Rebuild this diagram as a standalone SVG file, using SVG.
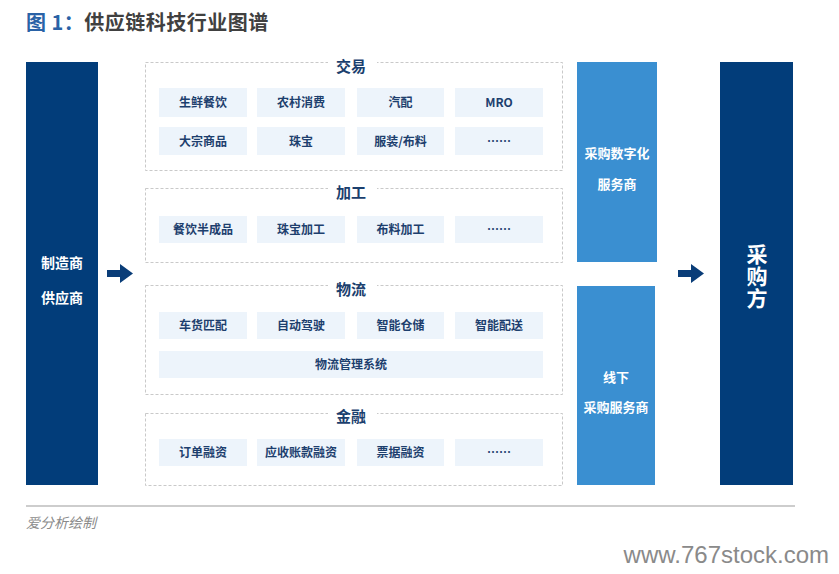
<svg xmlns="http://www.w3.org/2000/svg" width="839" height="574" viewBox="0 0 839 574">
<style>
text{font-family:"Noto Sans CJK SC","Liberation Sans",sans-serif;}
.dark{fill:#023d7a;}
.light{fill:#3a8fd1;}
.wt{fill:#fff;font-weight:bold;font-size:13px;text-anchor:middle;}
.wt14{font-size:14px;}
.big{font-size:21px;writing-mode:vertical-rl;letter-spacing:1px;}
.sec{fill:none;stroke:#c9c9c9;stroke-width:1;stroke-dasharray:3 2;}
.st{fill:#1b3f6e;font-weight:bold;font-size:15px;text-anchor:middle;}
.cell{fill:#edf4fb;}
.ct{fill:#1d3f6e;font-weight:bold;font-size:12px;text-anchor:middle;}
.arr{fill:#0a3d78;}
.wm{font-family:"Liberation Sans",sans-serif;font-size:24px;fill:#8a8a8a;text-anchor:end;}
</style>
<rect width="839" height="574" fill="#fff"/>
<text x="26" y="30" style="font-size:20px;font-weight:bold;letter-spacing:0.5px"><tspan fill="#2a62a6">图 1：</tspan><tspan fill="#404040">供应链科技行业图谱</tspan></text>

<g id="manufacturer">
<rect class="dark" x="26" y="62" width="72" height="423"/>
<text class="wt wt14" x="62" y="268">制造商</text>
<text class="wt wt14" x="62" y="303">供应商</text>
</g>

<g id="trade">
<rect class="sec" x="145.5" y="62.5" width="417" height="108"/>
<rect x="328" y="56" width="49" height="14" fill="#fff"/>
<text class="st" x="351" y="72">交易</text>
<rect class="cell" x="159" y="88" width="88" height="29"/><text class="ct" x="203" y="107">生鲜餐饮</text>
<rect class="cell" x="257" y="88" width="88" height="29"/><text class="ct" x="301" y="107">农村消费</text>
<rect class="cell" x="357" y="88" width="87" height="29"/><text class="ct" x="400.5" y="107">汽配</text>
<rect class="cell" x="455" y="88" width="88" height="29"/><text class="ct" x="499" y="107">MRO</text>
<rect class="cell" x="159" y="127" width="88" height="28"/><text class="ct" x="203" y="145.5">大宗商品</text>
<rect class="cell" x="257" y="127" width="88" height="28"/><text class="ct" x="301" y="145.5">珠宝</text>
<rect class="cell" x="357" y="127" width="87" height="28"/><text class="ct" x="400.5" y="145.5">服装/布料</text>
<rect class="cell" x="455" y="127" width="88" height="28"/><text class="ct" x="499" y="145.5">……</text>
</g>

<g id="processing">
<rect class="sec" x="145.5" y="188.5" width="417" height="74"/>
<rect x="328" y="182" width="49" height="14" fill="#fff"/>
<text class="st" x="351" y="198">加工</text>
<rect class="cell" x="159" y="216" width="88" height="27"/><text class="ct" x="203" y="234">餐饮半成品</text>
<rect class="cell" x="257" y="216" width="88" height="27"/><text class="ct" x="301" y="234">珠宝加工</text>
<rect class="cell" x="357" y="216" width="87" height="27"/><text class="ct" x="400.5" y="234">布料加工</text>
<rect class="cell" x="455" y="216" width="88" height="27"/><text class="ct" x="499" y="234">……</text>
</g>

<g id="logistics">
<rect class="sec" x="145.5" y="285.5" width="417" height="109"/>
<rect x="328" y="279" width="49" height="14" fill="#fff"/>
<text class="st" x="351" y="295">物流</text>
<rect class="cell" x="159" y="312" width="88" height="27"/><text class="ct" x="203" y="330">车货匹配</text>
<rect class="cell" x="257" y="312" width="88" height="27"/><text class="ct" x="301" y="330">自动驾驶</text>
<rect class="cell" x="357" y="312" width="87" height="27"/><text class="ct" x="400.5" y="330">智能仓储</text>
<rect class="cell" x="455" y="312" width="88" height="27"/><text class="ct" x="499" y="330">智能配送</text>
<rect class="cell" x="159" y="351" width="384" height="27"/><text class="ct" x="351" y="369">物流管理系统</text>
</g>

<g id="finance">
<rect class="sec" x="145.5" y="413.5" width="417" height="72"/>
<rect x="328" y="407" width="49" height="14" fill="#fff"/>
<text class="st" x="351" y="422">金融</text>
<rect class="cell" x="159" y="439" width="88" height="27"/><text class="ct" x="203" y="457">订单融资</text>
<rect class="cell" x="257" y="439" width="88" height="27"/><text class="ct" x="301" y="457">应收账款融资</text>
<rect class="cell" x="357" y="439" width="87" height="27"/><text class="ct" x="400.5" y="457">票据融资</text>
<rect class="cell" x="455" y="439" width="88" height="27"/><text class="ct" x="499" y="457">……</text>
</g>

<g id="digital-service">
<rect class="light" x="577" y="62" width="80" height="200"/>
<text class="wt" x="617" y="157.5">采购数字化</text>
<text class="wt" x="617" y="188.5">服务商</text>
</g>

<g id="offline-service">
<rect class="light" x="577" y="286" width="78" height="199"/>
<text class="wt" x="616" y="381.5">线下</text>
<text class="wt" x="616" y="411.5">采购服务商</text>
</g>

<g id="buyer">
<rect class="dark" x="720" y="62" width="73" height="423"/>
<text class="wt big" x="757" y="277">采购方</text>
</g>

<g id="connectors">
<path class="arr" d="M107,270 H120 V264 L133,273.5 L120,283 V277 H107 Z"/>
<path class="arr" d="M678,270 H691 V264 L704,273.5 L691,283 V277 H678 Z"/>
</g>

<line x1="26" y1="506" x2="795" y2="506" stroke="#bdbdbd" stroke-width="1.5"/>
<text x="26" y="528" style="font-size:14px;font-style:italic;fill:#8a8a8a">爱分析绘制</text>
<text class="wm" x="829" y="563">www.767stock.com</text>
</svg>
